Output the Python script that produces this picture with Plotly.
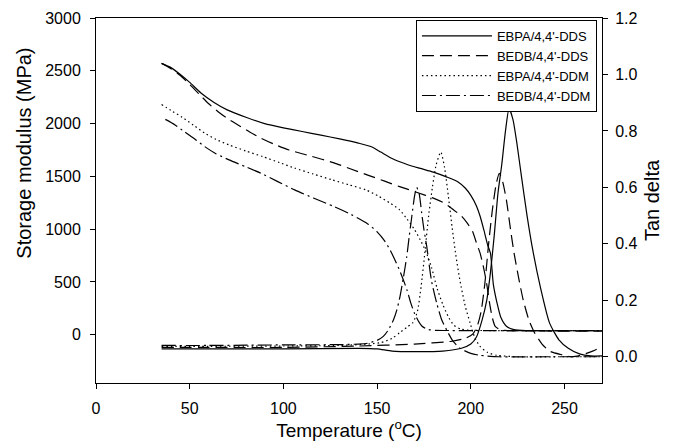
import plotly.graph_objects as go

# ---------------- data ----------------
series_names = ["EBPA/4,4'-DDS", "BEDB/4,4'-DDS", "EBPA/4,4'-DDM", "BEDB/4,4'-DDM"]

# Storage modulus (MPa) vs temperature (°C)
T_E1 = [35, 40, 45, 50, 56, 63, 70, 80, 90, 100, 110, 120, 130, 140, 147, 152, 158, 165, 172, 180, 187, 193, 197, 200, 203, 205, 207, 209, 210.5, 212, 214, 216, 219, 223, 230, 245, 270]
E1 = [2570, 2530, 2465, 2390, 2290, 2200, 2130, 2060, 2000, 1960, 1925, 1890, 1855, 1815, 1780, 1730, 1670, 1620, 1580, 1540, 1495, 1450, 1390, 1320, 1220, 1120, 990, 850, 770, 480, 300, 165, 80, 48, 40, 38, 38]

T_E2 = [35, 40, 45, 50, 55, 60, 65, 70, 76, 82, 88, 95, 103, 115, 127, 136, 145, 154, 162, 171, 180, 186, 191, 195, 198, 201, 203, 205, 207, 208.5, 210, 211.5, 213, 216, 220, 230, 250, 270]
E2 = [2570, 2520, 2455, 2370, 2280, 2190, 2115, 2050, 1985, 1920, 1862, 1805, 1750, 1690, 1628, 1570, 1512, 1455, 1403, 1350, 1294, 1245, 1180, 1125, 1060, 975, 870, 770, 620, 480, 300, 160, 80, 45, 38, 36, 35, 35]

T_E3 = [35, 40, 46, 52, 58, 64, 71, 80, 89, 98, 106, 116, 126, 135, 144, 151, 157, 162, 166, 170, 173, 176, 179, 182, 185, 188, 191, 195, 200, 210, 230, 270]
E3 = [2180, 2125, 2060, 1985, 1910, 1850, 1798, 1740, 1687, 1630, 1578, 1522, 1467, 1420, 1372, 1310, 1246, 1183, 1095, 995, 900, 790, 640, 440, 290, 170, 90, 52, 42, 40, 40, 40]

T_E4 = [37, 42, 47, 53, 58, 64, 71, 80, 88, 97, 106, 116, 127, 136, 145, 150, 154, 157, 160, 162, 164, 166, 168, 170, 172, 174, 177, 181, 190, 210, 240, 270]
E4 = [2040, 1990, 1925, 1850, 1782, 1715, 1656, 1590, 1530, 1450, 1372, 1295, 1214, 1140, 1050, 975, 890, 800, 690, 610, 520, 420, 300, 200, 130, 80, 50, 42, 40, 40, 40, 40]

# Tan delta vs temperature (°C)
T_D1 = [35, 60, 100, 140, 150, 158, 170, 185, 195, 200, 203, 206, 208.5, 210.5, 212.5, 214.5, 216.5, 218.5, 220.4, 222.5, 224.5, 227, 230, 233, 237, 242, 247, 252, 258, 264, 270]
D1 = [0.028, 0.028, 0.028, 0.030, 0.028, 0.020, 0.018, 0.020, 0.030, 0.045, 0.07, 0.13, 0.20, 0.30, 0.43, 0.58, 0.68, 0.80, 0.88, 0.84, 0.76, 0.64, 0.50, 0.38, 0.25, 0.12, 0.06, 0.03, 0.01, 0.003, 0.003]

T_D2 = [35, 60, 100, 140, 170, 190, 197, 201, 203.5, 205.5, 207.5, 209.5, 211.5, 213.5, 215.2, 217, 219, 221, 223, 225.5, 228, 231, 234, 238, 242, 248, 254, 260, 265, 270]
D2 = [0.033, 0.033, 0.033, 0.038, 0.045, 0.055, 0.065, 0.08, 0.11, 0.16, 0.26, 0.40, 0.52, 0.61, 0.65, 0.62, 0.555, 0.46, 0.37, 0.28, 0.20, 0.13, 0.085, 0.045, 0.02, 0.008, 0.0, 0.008, 0.02, 0.035]

T_D3 = [35, 60, 100, 130, 145, 152, 158, 162, 166, 169, 171.5, 173.5, 175.5, 177.5, 179.5, 181.5, 184, 186, 188, 190, 192, 194.2, 197, 199.6, 202, 205, 209, 214, 225, 250, 270]
D3 = [0.037, 0.037, 0.038, 0.040, 0.045, 0.050, 0.065, 0.085, 0.105, 0.12, 0.16, 0.25, 0.37, 0.50, 0.60, 0.68, 0.725, 0.67, 0.57, 0.46, 0.36, 0.27, 0.18, 0.12, 0.07, 0.036, 0.015, 0.005, 0.0, 0.0, 0.0]

T_D4 = [35, 60, 100, 130, 140, 145, 150, 153.3, 156, 158.7, 160.5, 162.2, 164, 165.8, 167.2, 168.5, 170, 171.1, 172.5, 173.8, 175, 176.5, 179, 181.8, 184.5, 187.1, 190.5, 194.2, 200, 205, 215, 240, 270]
D4 = [0.040, 0.040, 0.042, 0.043, 0.045, 0.048, 0.058, 0.072, 0.095, 0.13, 0.165, 0.213, 0.28, 0.354, 0.43, 0.496, 0.57, 0.60, 0.575, 0.508, 0.45, 0.39, 0.27, 0.19, 0.13, 0.095, 0.055, 0.03, 0.012, 0.005, 0.0, 0.0, 0.0]

x_ticks = [0, 50, 100, 150, 200, 250]
y_ticks = [0, 500, 1000, 1500, 2000, 2500, 3000]
y2_ticks = [0.0, 0.2, 0.4, 0.6, 0.8, 1.0, 1.2]

# ---------------- styling ----------------
dashes = ["solid", "12px,6px", "1.5px,3px", "14px,4px,2px,4px"]
FONT = "Liberation Sans, Arial, sans-serif"

storage = [(T_E1, E1), (T_E2, E2), (T_E3, E3), (T_E4, E4)]
tand = [(T_D1, D1), (T_D2, D2), (T_D3, D3), (T_D4, D4)]

fig = go.Figure()
for i, name in enumerate(series_names):
    tx, ty = storage[i]
    fig.add_trace(go.Scatter(
        x=tx, y=ty, mode="lines", name=name, legendgroup=name, showlegend=True,
        line=dict(color="black", width=1.2, dash=dashes[i], shape="spline", smoothing=0.6),
        yaxis="y"))
for i, name in enumerate(series_names):
    tx, ty = tand[i]
    fig.add_trace(go.Scatter(
        x=tx, y=ty, mode="lines", name=name, legendgroup=name, showlegend=False,
        line=dict(color="black", width=1.2, dash=dashes[i], shape="spline", smoothing=0.6),
        yaxis="y2"))

axis_common = dict(showgrid=False, zeroline=False, showline=True, linecolor="black", linewidth=1,
                   ticks="outside", ticklen=5, tickcolor="black", automargin=False,
                   tickfont=dict(family=FONT, size=16, color="black"))

# the page body adds an 8px offset, so the figure is 8px smaller than the window
fig.update_layout(
    width=665, height=436,
    margin=dict(l=88, r=71, t=10, b=61, autoexpand=False),
    paper_bgcolor="white", plot_bgcolor="white",
    font=dict(family=FONT, color="black"),
    showlegend=True,
    legend=dict(x=0.99, y=0.995, xanchor="right", yanchor="top",
                bordercolor="black", borderwidth=1, bgcolor="white",
                font=dict(family=FONT, size=13, color="black"),
                itemwidth=70, tracegroupgap=0),
    xaxis=dict(range=[0, 270], tickvals=x_ticks, mirror=True,
               title=dict(text="Temperature (<sup>o</sup>C)", font=dict(family=FONT, size=19), standoff=6),
               ticklabelstandoff=6, **axis_common),
    yaxis=dict(range=[-457, 3000], tickvals=y_ticks, ticklabelstandoff=6, **axis_common),
    yaxis2=dict(range=[-0.093, 1.2], tickvals=y2_ticks, tickformat=".1f", overlaying="y", side="right",
                title=dict(text="Tan delta", font=dict(family=FONT, size=20), standoff=8),
                ticklabelstandoff=4, **axis_common),
    annotations=[dict(text="Storage modulus (MPa)", xref="paper", yref="paper",
                      x=-0.143, y=0.63, xanchor="center", yanchor="middle", textangle=-90,
                      showarrow=False, font=dict(family=FONT, size=20, color="black"))],
)

fig.write_html("out.html")
